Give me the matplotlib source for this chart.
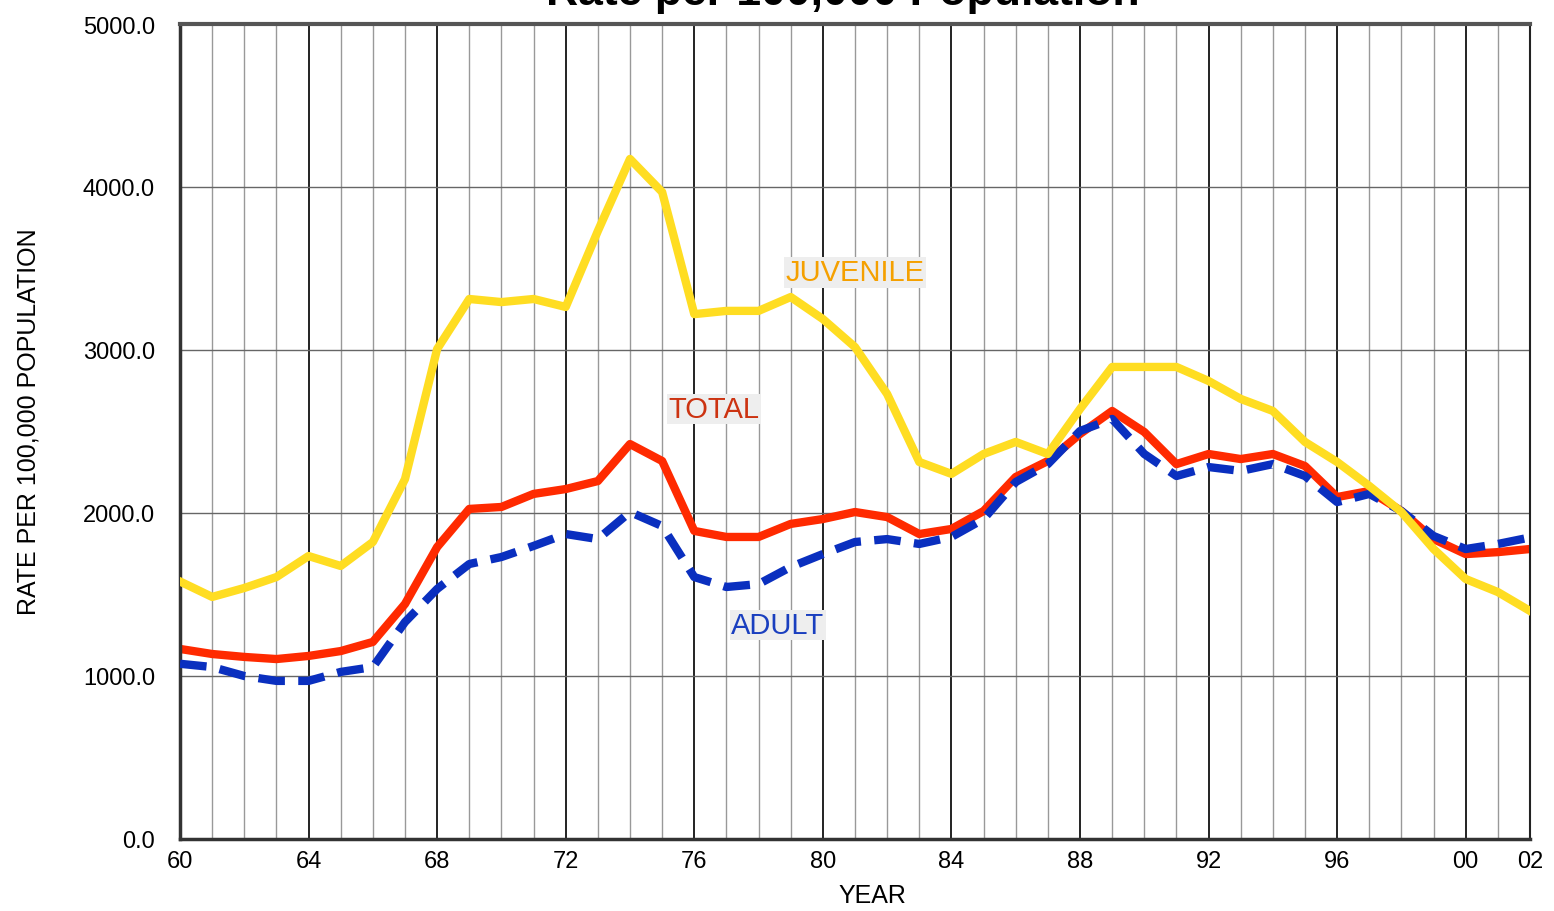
import numpy as np
import matplotlib.pyplot as plt

years = np.arange(1960, 2003)

juvenile = [1580, 1485, 1540, 1607, 1736, 1675, 1822, 2208, 3006, 3313,
            3294, 3313, 3264, 3730, 4172, 3969, 3220, 3240, 3240, 3325,
            3190, 3018, 2730, 2313, 2240, 2362, 2436, 2362, 2638, 2896,
            2896, 2896, 2810, 2700, 2626, 2436, 2313, 2166, 2006, 1779,
            1595, 1515, 1399]

total = [1166, 1135, 1117, 1104, 1123, 1153, 1209, 1442, 1791, 2025,
         2037, 2117, 2147, 2196, 2423, 2319, 1890, 1853, 1853, 1933,
         1963, 2006, 1975, 1871, 1902, 2012, 2221, 2319, 2485, 2626,
         2497, 2300, 2362, 2331, 2362, 2288, 2098, 2135, 2012, 1840,
         1748, 1760, 1779]

adult = [1075, 1055, 1000, 970, 970, 1025, 1055, 1331, 1534, 1687,
         1730, 1798, 1871, 1840, 2006, 1920, 1607, 1546, 1564, 1669,
         1748, 1822, 1840, 1810, 1853, 1963, 2190, 2300, 2503, 2577,
         2362, 2227, 2282, 2258, 2300, 2227, 2067, 2117, 2012, 1859,
         1779, 1810, 1850]

major_years = list(range(1960, 2001, 4)) + [2002]
major_labels = ['60', '64', '68', '72', '76', '80', '84', '88', '92', '96', '00', '02']
y_ticks = [0, 1000, 2000, 3000, 4000, 5000]

plt.rcParams['font.family'] = ['Liberation Sans', 'DejaVu Sans']

fig = plt.figure(figsize=(15.54, 9.12), dpi=100)
ax = fig.add_axes([180/1554, 1-840/912, 1350/1554, 815/912])

# grid: light every year, dark every 4 years
for yr in years:
    dark = (yr - 1960) % 4 == 0
    ax.axvline(yr, color='#222222' if dark else '#999999',
               lw=1.4 if dark else 1.0, zorder=1)
for v in y_ticks:
    ax.axhline(v, color='#666666', lw=1.0, zorder=1)

ax.plot(years, adult, color='#0a2fbf', lw=6, ls=(0, (3.2, 1.6)), zorder=3,
        dash_capstyle='butt')
ax.plot(years, total, color='#ff2a00', lw=6, zorder=2)
ax.plot(years, juvenile, color='#ffdd22', lw=6, zorder=4)

box = dict(facecolor='#eeeeee', edgecolor='none', pad=1)
ax.text(1981.0, 3478, 'JUVENILE', color='#f5a000', fontsize=21, ha='center',
        va='center', bbox=box, zorder=5)
ax.text(1976.6, 2638, 'TOTAL', color='#cc3311', fontsize=21, ha='center',
        va='center', bbox=box, zorder=5)
ax.text(1978.6, 1313, 'ADULT', color='#1a3fbf', fontsize=21, ha='center',
        va='center', bbox=box, zorder=5)

ax.set_xlim(1960, 2002)
ax.set_ylim(0, 5000)
ax.set_xticks(major_years)
ax.set_xticklabels(major_labels)
ax.set_yticks(y_ticks)
ax.set_yticklabels([f'{v:.1f}' for v in y_ticks])
ax.tick_params(axis='y', length=0, labelsize=17, pad=18)
ax.tick_params(axis='x', length=0, labelsize=17, pad=8)
ax.set_xlabel('YEAR', fontsize=18)
ax.set_ylabel('RATE PER 100,000 POPULATION', fontsize=18)
ax.xaxis.set_label_coords(0.5126, -0.054)
ax.yaxis.set_label_coords(-0.1037, 0.513)

for side in ['left', 'bottom']:
    ax.spines[side].set_linewidth(2.5)
    ax.spines[side].set_color('#333333')
ax.spines['top'].set_linewidth(3)
ax.spines['top'].set_color('#555555')
ax.spines['right'].set_linewidth(1.5)
ax.spines['right'].set_color('#222222')

# title sits partly above the canvas, as in the source image
fig.text(0.5425, 1 - 5/912, 'Rate per 100,000 Population', fontsize=32,
         fontweight='bold', ha='center', va='baseline')

fig.savefig('out.png', dpi=100)
